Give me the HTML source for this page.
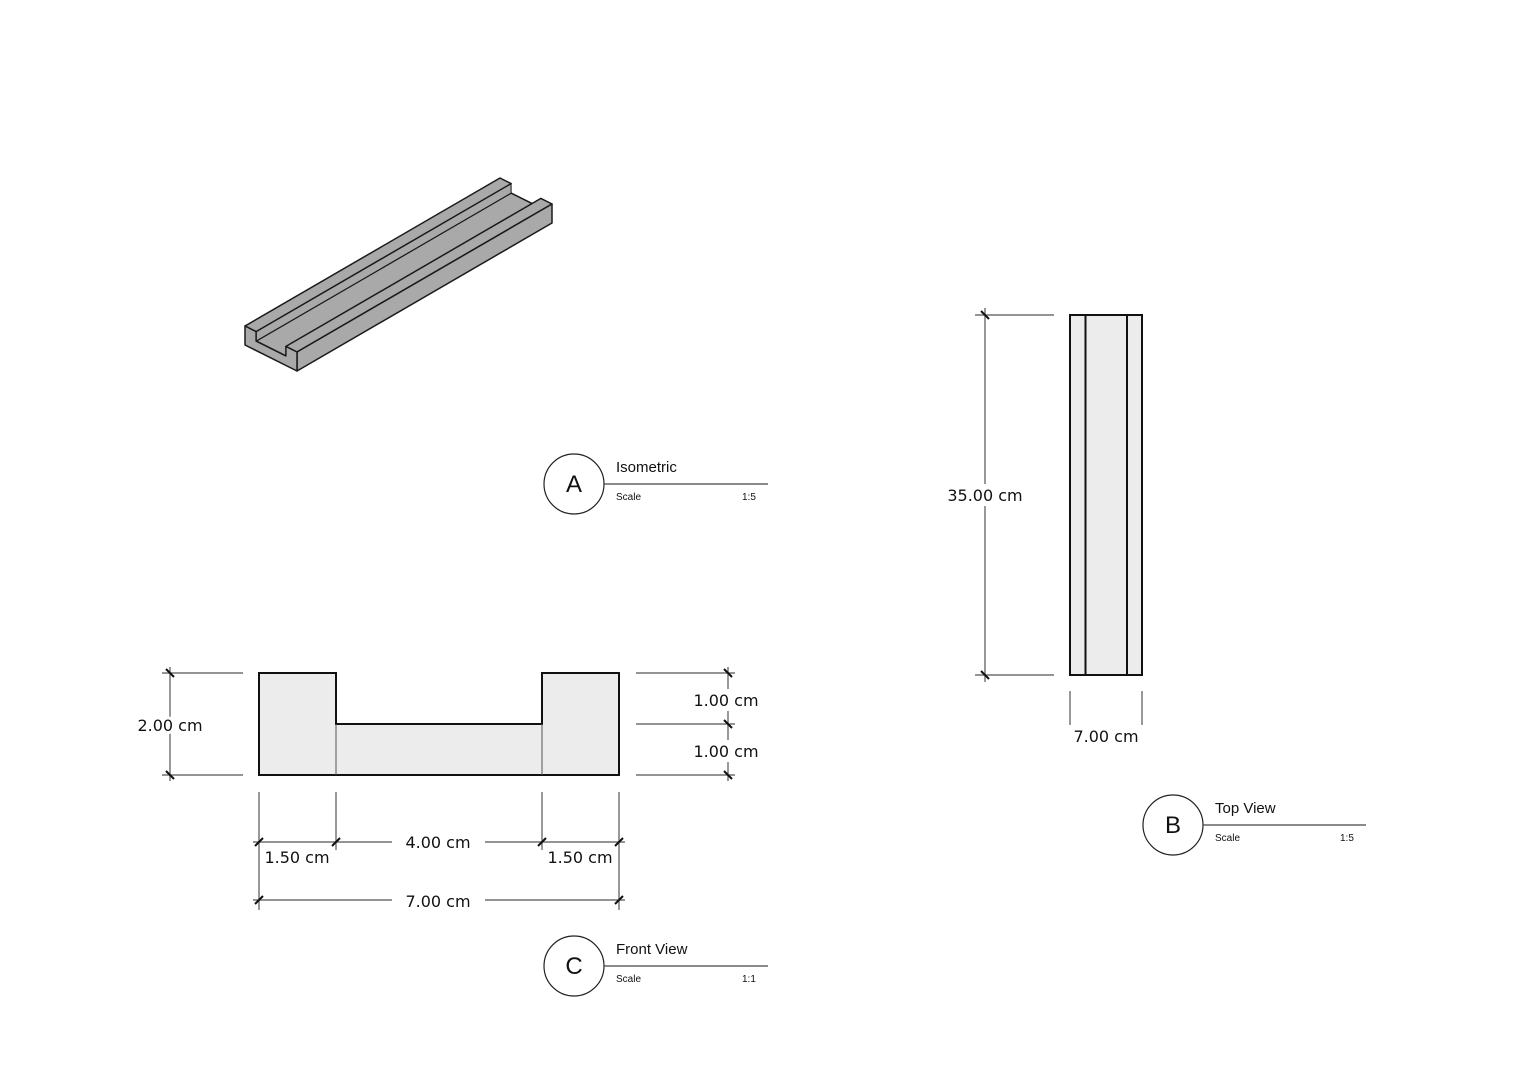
<!DOCTYPE html>
<html><head><meta charset="utf-8"><style>
html,body{margin:0;padding:0;background:#fff;}
svg{display:block;}
.d{font-family:"DejaVu Sans","Liberation Sans",sans-serif;font-size:16px;fill:#111;}
.t{font-family:"Liberation Sans",sans-serif;fill:#111;}
</style></head><body>
<svg width="1528" height="1080" viewBox="0 0 1528 1080" xmlns="http://www.w3.org/2000/svg">
<rect width="1528" height="1080" fill="#fff"/>
<!-- Isometric -->
<g fill="#a9a9a9" stroke="#1a1a1a" stroke-width="1.5" stroke-linejoin="round">
<polygon points="285.9,355.9 256.1,341.1 511.1,193.1 540.9,207.9"/>
<polygon points="256.1,341.1 256.1,331.6 511.1,183.6 511.1,193.1" stroke-width="1"/>
<polygon points="256.1,331.6 245,326 500,178 511.1,183.6"/>
<polygon points="297,352 285.9,346.4 540.9,198.4 552,204"/>
<polygon points="297,371 297,352 552,204 552,223"/>
<polygon points="297,371 245,345 245,326 256.1,331.6 256.1,341.1 285.9,355.9 285.9,346.4 297,352"/>
</g>
<!-- Title A -->
<circle cx="574" cy="484" r="30" fill="none" stroke="#222" stroke-width="1.2"/>
<text x="574" y="492" text-anchor="middle" class="t" font-size="24">A</text>
<line x1="604" y1="484" x2="768" y2="484" stroke="#444" stroke-width="1.2"/>
<text x="616" y="472" class="t" font-size="15">Isometric</text>
<text x="616" y="500" class="t" font-size="10">Scale</text>
<text x="742" y="500" class="t" font-size="10">1:5</text>
<!-- Title B -->
<circle cx="1173" cy="825" r="30" fill="none" stroke="#222" stroke-width="1.2"/>
<text x="1173" y="833" text-anchor="middle" class="t" font-size="24">B</text>
<line x1="1203" y1="825" x2="1366" y2="825" stroke="#444" stroke-width="1.2"/>
<text x="1215" y="813" class="t" font-size="15">Top View</text>
<text x="1215" y="841" class="t" font-size="10">Scale</text>
<text x="1340" y="841" class="t" font-size="10">1:5</text>
<!-- Title C -->
<circle cx="574" cy="966" r="30" fill="none" stroke="#222" stroke-width="1.2"/>
<text x="574" y="974" text-anchor="middle" class="t" font-size="24">C</text>
<line x1="604" y1="966" x2="768" y2="966" stroke="#444" stroke-width="1.2"/>
<text x="616" y="954" class="t" font-size="15">Front View</text>
<text x="616" y="982" class="t" font-size="10">Scale</text>
<text x="742" y="982" class="t" font-size="10">1:1</text>
<!-- Top view -->
<rect x="1070" y="315" width="72" height="360" fill="#ececec" stroke="#111" stroke-width="2"/>
<line x1="1085.5" y1="315" x2="1085.5" y2="675" stroke="#111" stroke-width="2"/>
<line x1="1127" y1="315" x2="1127" y2="675" stroke="#111" stroke-width="2"/>
<g stroke="#555" stroke-width="1.2">
<line x1="975" y1="315" x2="1054" y2="315"/>
<line x1="975" y1="675" x2="1054" y2="675"/>
<line x1="985" y1="308" x2="985" y2="682"/>
<line x1="1070" y1="691" x2="1070" y2="725"/>
<line x1="1142" y1="691" x2="1142" y2="725"/>
</g>
<g stroke="#111" stroke-width="2"><line x1="981" y1="311" x2="989" y2="319"/><line x1="981" y1="671" x2="989" y2="679"/></g>
<rect x="944" y="484" width="82" height="22" fill="#fff"/>
<text x="985" y="501" text-anchor="middle" class="d">35.00 cm</text>
<text x="1106" y="742" text-anchor="middle" class="d">7.00 cm</text>
<!-- Front view -->
<polygon points="259,673 336,673 336,724 542,724 542,673 619,673 619,775 259,775" fill="#ececec" stroke="#111" stroke-width="2"/>
<line x1="336" y1="724" x2="336" y2="775" stroke="#555" stroke-width="1"/>
<line x1="542" y1="724" x2="542" y2="775" stroke="#555" stroke-width="1"/>
<g stroke="#555" stroke-width="1.2">
<line x1="162" y1="673" x2="243" y2="673"/>
<line x1="162" y1="775" x2="243" y2="775"/>
<line x1="170" y1="667" x2="170" y2="781"/>
<line x1="636" y1="673" x2="735" y2="673"/>
<line x1="636" y1="724" x2="735" y2="724"/>
<line x1="636" y1="775" x2="735" y2="775"/>
<line x1="728" y1="667" x2="728" y2="781"/>
<line x1="259" y1="792" x2="259" y2="910"/>
<line x1="619" y1="792" x2="619" y2="910"/>
<line x1="336" y1="792" x2="336" y2="850"/>
<line x1="542" y1="792" x2="542" y2="850"/>
<line x1="253" y1="842" x2="392" y2="842"/>
<line x1="485" y1="842" x2="625" y2="842"/>
<line x1="253" y1="900" x2="392" y2="900"/>
<line x1="485" y1="900" x2="625" y2="900"/>
</g>
<g stroke="#111" stroke-width="2">
<line x1="166" y1="669" x2="174" y2="677"/><line x1="166" y1="771" x2="174" y2="779"/>
<line x1="724" y1="669" x2="732" y2="677"/><line x1="724" y1="720" x2="732" y2="728"/><line x1="724" y1="771" x2="732" y2="779"/>
<line x1="255" y1="846" x2="263" y2="838"/><line x1="332" y1="846" x2="340" y2="838"/><line x1="538" y1="846" x2="546" y2="838"/><line x1="615" y1="846" x2="623" y2="838"/>
<line x1="255" y1="904" x2="263" y2="896"/><line x1="615" y1="904" x2="623" y2="896"/>
</g>
<rect x="690" y="689" width="72" height="22" fill="#fff"/>
<rect x="690" y="740" width="72" height="22" fill="#fff"/>
<text x="170" y="731" text-anchor="middle" class="d" style="paint-order:stroke" stroke="#fff" stroke-width="6">2.00 cm</text>
<text x="726" y="706" text-anchor="middle" class="d">1.00 cm</text>
<text x="726" y="757" text-anchor="middle" class="d">1.00 cm</text>
<text x="297" y="863" text-anchor="middle" class="d">1.50 cm</text>
<text x="438" y="848" text-anchor="middle" class="d">4.00 cm</text>
<text x="580" y="863" text-anchor="middle" class="d">1.50 cm</text>
<text x="438" y="907" text-anchor="middle" class="d">7.00 cm</text>
</svg>
</body></html>
